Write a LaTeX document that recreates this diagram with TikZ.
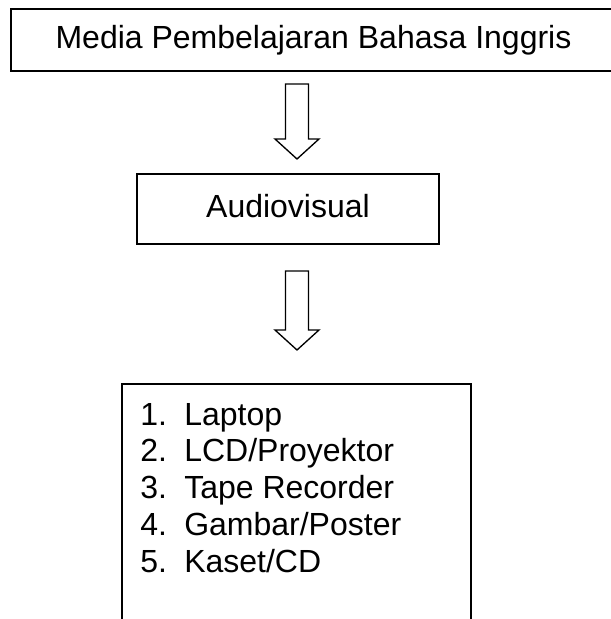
\documentclass[tikz,border=0pt]{standalone}
\usepackage{fontspec}
\setmainfont{Liberation Sans}
\usetikzlibrary{calc}
\begin{document}
\begin{tikzpicture}[x=0.75pt,y=-0.75pt,
  every node/.style={font=\fontsize{24pt}{30pt}\selectfont},
  box/.style={draw, line width=1.5pt, rectangle, inner sep=0pt, text height=18pt, text depth=6pt},
  frame/.style={draw=none, rectangle, inner sep=0pt},
  framelines/.style={line width=1.5pt},
  txt/.style={inner sep=0pt, anchor=base west},
  blockarrow/.style={line width=1pt, to path={
    let \p1=(\tikztostart), \p2=(\tikztotarget) in
    (\x1-8.6pt,\y1) -- (\x1+8.6pt,\y1) -- (\x1+8.6pt,\y2+15pt) -- (\x1+16.5pt,\y2+15pt)
    -- (\x1,\y2) -- (\x1-16.5pt,\y2+15pt) -- (\x1-8.6pt,\y2+15pt) -- cycle}}]
\useasboundingbox (0,0) rectangle (611,619);
% boxes
\node[box, minimum width=453.75pt, minimum height=46.5pt] (media) at (313.5,40) {Media Pembelajaran Bahasa Inggris};
\node[box, minimum width=226.5pt, minimum height=52.5pt] (av) at (288,209) {Audiovisual};
\node[frame, minimum width=261.75pt, minimum height=192pt] (list) at (296.5,512) {};
\draw[framelines] (list.south west) -- (list.north west) -- (list.north east) -- (list.south east);
% list items
\node[txt] (n1) at (140,425) {1.};
\node[txt] (i1) at (184,425) {Laptop};
\node[txt] (n2) at (140,461.75) {2.};
\node[txt] (i2) at (184,461.75) {LCD/Proyektor};
\node[txt] (n3) at (140,498.5) {3.};
\node[txt] (i3) at (184,498.5) {Tape Recorder};
\node[txt] (n4) at (140,535.25) {4.};
\node[txt] (i4) at (184,535.25) {Gambar/Poster};
\node[txt] (n5) at (140,572) {5.};
\node[txt] (i5) at (184,572) {Kaset/CD};
% block arrows
\coordinate (a1s) at (297,84);
\coordinate (a1e) at (297,159);
\coordinate (a2s) at (297,271);
\coordinate (a2e) at (297,350);
\draw[blockarrow] (a1s) to (a1e);
\draw[blockarrow] (a2s) to (a2e);
\end{tikzpicture}
\end{document}
